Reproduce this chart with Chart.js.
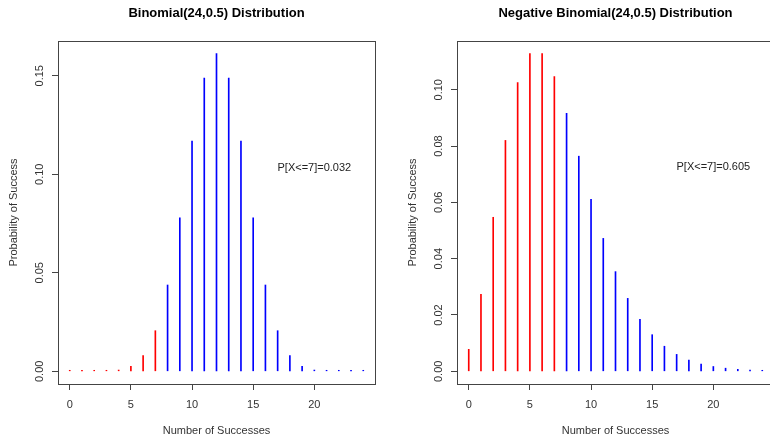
<!DOCTYPE html>
<html lang="en">
<head>
<meta charset="UTF-8">
<title>Binomial vs Negative Binomial</title>
<script src="https://cdn.jsdelivr.net/npm/chart.js@4"></script>
<style>
  body{margin:0;background:#fff;width:770px;height:436px;overflow:hidden;position:relative}
  .panel{position:absolute;top:0;width:399px;height:436px}
</style>
</head>
<body>
<div class="panel" style="left:0"><canvas id="binomChart"></canvas></div>
<div class="panel" style="left:399px"><canvas id="negBinomChart"></canvas></div>
<script>
const successes = [0,1,2,3,4,5,6,7,8,9,10,11,12,13,14,15,16,17,18,19,20,21,22,23,24];
const binomProb = [0.00000006,0.0000014,0.0000165,0.000121,0.000633,0.00253,0.00802,0.0206,0.0438,0.0779,0.1169,0.1488,0.1612,0.1488,0.1169,0.0779,0.0438,0.0206,0.00802,0.00253,0.000633,0.000121,0.0000165,0.0000014,0.00000006];
const negBinomProb = [0.0078,0.0273,0.0547,0.0820,0.1025,0.1128,0.1128,0.1047,0.0916,0.0764,0.0611,0.0472,0.0354,0.0259,0.0185,0.0130,0.0089,0.0060,0.0040,0.0026,0.0017,0.0011,0.0007,0.0004,0.0003];
const xTicks = [0,5,10,15,20];
const binomYTicks = [0,0.05,0.10,0.15];
const negBinomYTicks = [0,0.02,0.04,0.06,0.08,0.10];
const cutoff = 7;
const labelX = 20;
const binomLabelY = 0.1034;
const negBinomLabelY = 0.0724;

const FONT = "'Liberation Sans', Arial, sans-serif";

// box round the plot region, like R's box()
const boxPlugin = {
  id: 'box',
  afterDraw(chart) {
    const a = chart.chartArea, ctx = chart.ctx;
    ctx.save();
    ctx.strokeStyle = '#444';
    ctx.lineWidth = 1;
    ctx.strokeRect(Math.round(a.left) + 0.5, Math.round(a.top) + 0.5, Math.round(a.right - a.left), Math.round(a.bottom - a.top));
    ctx.restore();
  }
};

const textPlugin = (text, x, y) => ({
  id: 'probText',
  afterDraw(chart) {
    const ctx = chart.ctx;
    ctx.save();
    ctx.font = '11px ' + FONT;
    ctx.fillStyle = '#222';
    ctx.textAlign = 'center';
    ctx.textBaseline = 'middle';
    ctx.fillText(text, chart.scales.x.getPixelForValue(x), chart.scales.y.getPixelForValue(y));
    ctx.restore();
  }
});

const createChart = (id, title, probs, yTicks, note, noteY) => {
  const top = Math.max(...probs);
  const xpad = 0.04 * (successes[successes.length - 1] - successes[0]);
  return new Chart(document.getElementById(id), {
    type: 'bar',
    data: {
      datasets: [{
        data: successes.map((x, i) => ({x: x, y: probs[i]})),
        backgroundColor: successes.map(x => x <= cutoff ? '#ff0000' : '#0000ff'),
        barThickness: 1,
        minBarLength: 1,
        borderWidth: 0
      }]
    },
    options: {
      responsive: true,
      maintainAspectRatio: false,
      animation: false,
      layout: {padding: {left: 0, right: 24, top: 0, bottom: 0}},
      plugins: {
        legend: {display: false},
        tooltip: {enabled: false},
        title: {
          display: true, text: title, fullSize: false, color: '#000',
          font: {family: FONT, size: 13, weight: 'bold', lineHeight: 1.2},
          padding: {top: 6, bottom: 19.4}
        }
      },
      scales: {
        x: {
          type: 'linear',
          offset: false,
          min: successes[0] - xpad,
          max: successes[successes.length - 1] + xpad,
          afterBuildTicks: s => { s.ticks = xTicks.map(v => ({value: v})); },
          afterFit: s => { s.height = 52; },
          grid: {offset: false, drawOnChartArea: false, drawTicks: true, tickLength: 6, color: '#444'},
          border: {display: false},
          ticks: {color: '#333', font: {family: FONT, size: 11}, padding: 8, maxRotation: 0, autoSkip: false},
          title: {display: true, text: 'Number of Successes', color: '#333', font: {family: FONT, size: 11, lineHeight: 1}, padding: {top: 0, bottom: 0}}
        },
        y: {
          min: -0.04 * top,
          max: 1.04 * top,
          afterBuildTicks: s => { s.ticks = yTicks.map(v => ({value: v})); },
          afterFit: s => { s.width = 58; },
          grid: {drawOnChartArea: false, drawTicks: true, tickLength: 6, color: '#444'},
          border: {display: false},
          ticks: {
            color: '#333', font: {family: FONT, size: 11}, padding: 1,
            minRotation: 90, maxRotation: 90, crossAlign: 'center', autoSkip: false,
            callback: v => v.toFixed(2)
          },
          title: {display: true, text: 'Probability of Success', color: '#333', font: {family: FONT, size: 11, lineHeight: 1.2}, padding: {top: 7, bottom: 0}}
        }
      }
    },
    plugins: [boxPlugin, textPlugin(note, labelX, noteY)]
  });
};

createChart('binomChart', 'Binomial(24,0.5) Distribution', binomProb, binomYTicks, 'P[X<=7]=0.032', binomLabelY);
createChart('negBinomChart', 'Negative Binomial(24,0.5) Distribution', negBinomProb, negBinomYTicks, 'P[X<=7]=0.605', negBinomLabelY);
</script>
</body>
</html>
